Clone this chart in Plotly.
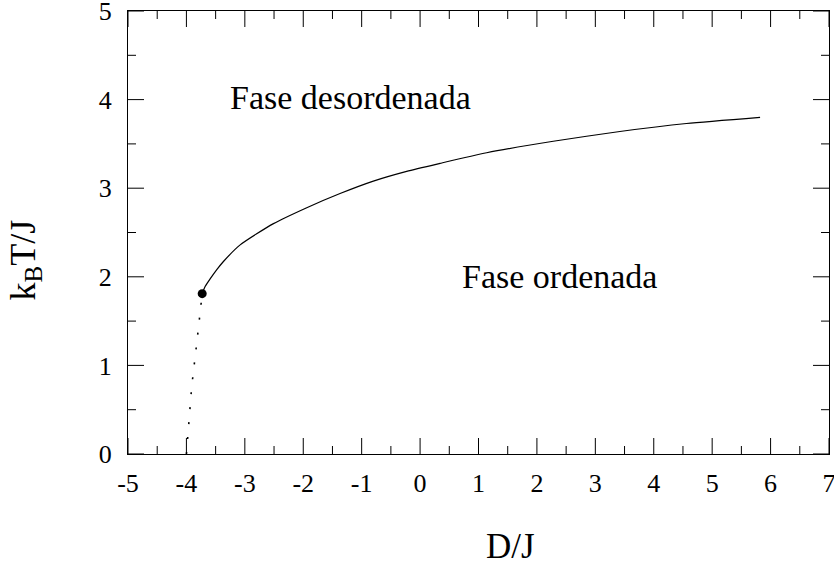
import plotly.graph_objects as go

# Phase boundary (solid): reduced anisotropy D/J vs critical temperature k_B T/J
boundary_d = [-3.73, -3.68, -3.60, -3.48, -3.37, -3.08, -2.51, -1.94, -1.37,
              -0.80, -0.23, 0.34, 1.14, 2.28, 3.42, 4.56, 5.82]
boundary_t = [1.81, 1.89, 1.97, 2.08, 2.17, 2.36, 2.60, 2.78, 2.94,
              3.08, 3.19, 3.28, 3.40, 3.53, 3.64, 3.73, 3.80]

# First-order segment (dotted) down to T = 0
first_order_d = [-4.00, -3.97, -3.91, -3.82, -3.75, -3.73]
first_order_t = [0.00, 0.25, 0.76, 1.27, 1.65, 1.81]

# Tricritical point
tcp_d = [-3.73]
tcp_t = [1.81]

x_ticks = [-5, -4, -3, -2, -1, 0, 1, 2, 3, 4, 5, 6, 7]
x_labels = ["-5", "-4", "-3", "-2", "-1", "0", "1", "2", "3", "4", "5", "6", "7"]
x_minor = [-4.5, -3.5, -2.5, -1.5, -0.5, 0.5, 1.5, 2.5, 3.5, 4.5, 5.5, 6.5]
y_ticks = [0, 1, 2, 3, 4, 5]
y_labels = ["0", "1", "2", "3", "4", "5"]
y_minor = [0.5, 1.5, 2.5, 3.5, 4.5]

x_range = [-5, 7]
y_range = [0, 5]

SERIF = "Liberation Serif, Times New Roman, serif"
MAJOR_LEN = 16
MINOR_LEN = 8

fig = go.Figure()
fig.add_trace(go.Scatter(x=first_order_d, y=first_order_t, mode="lines",
                         line=dict(color="black", width=1.6, dash="2px,13px"),
                         showlegend=False, hoverinfo="skip"))
fig.add_trace(go.Scatter(x=boundary_d, y=boundary_t, mode="lines",
                         line=dict(color="black", width=1.2, shape="spline", smoothing=0.6),
                         showlegend=False))
fig.add_trace(go.Scatter(x=tcp_d, y=tcp_t, mode="markers",
                         marker=dict(color="black", size=9),
                         showlegend=False))

axis_style = dict(
    showgrid=False, zeroline=False, showline=True, linecolor="black", linewidth=1,
    mirror=True, ticks="", automargin=False, ticklabeloverflow="allow",
    tickfont=dict(family=SERIF, size=26, color="black"),
)
fig.update_layout(
    xaxis=dict(range=x_range, tickvals=x_ticks, ticktext=x_labels,
               ticklabelstandoff=6, **axis_style),
    yaxis=dict(range=y_range, tickvals=y_ticks, ticktext=y_labels,
               ticklabelstandoff=10, **axis_style),
)

# Inward tick marks on all four sides, sized in pixels
tick_line = dict(color="black", width=1)
for values, length in ((x_ticks, MAJOR_LEN), (x_minor, MINOR_LEN)):
    for v in values:
        for anchor, sign in ((0, 1), (1, -1)):
            fig.add_shape(type="line", xref="x", yref="paper", x0=v, x1=v,
                          ysizemode="pixel", yanchor=anchor, y0=0, y1=sign * length,
                          line=tick_line, layer="above")
for values, length in ((y_ticks, MAJOR_LEN), (y_minor, MINOR_LEN)):
    for v in values:
        for anchor, sign in ((0, 1), (1, -1)):
            fig.add_shape(type="line", xref="paper", yref="y", y0=v, y1=v,
                          xsizemode="pixel", xanchor=anchor, x0=0, x1=sign * length,
                          line=tick_line, layer="above")

fig.add_annotation(x=-1.19, y=4.02, text="Fase desordenada", showarrow=False,
                   font=dict(family=SERIF, size=34, color="black"))
fig.add_annotation(x=2.39, y=2.0, text="Fase ordenada", showarrow=False,
                   font=dict(family=SERIF, size=34, color="black"))

# Axis titles
fig.add_annotation(xref="paper", yref="paper", x=0.546, y=0, yshift=-114,
                   text="D/J", showarrow=False,
                   font=dict(family=SERIF, size=35, color="black"))
fig.add_annotation(xref="paper", yref="paper", x=0, y=(454 - 260) / 443, xshift=-128,
                   text="k<sub>B</sub>T/J", textangle=-90, showarrow=False,
                   font=dict(family=SERIF, size=36, color="black"))

fig.update_layout(
    width=834, height=567,
    margin=dict(l=128, r=5, t=11, b=113),
    paper_bgcolor="white", plot_bgcolor="white",
)

fig.write_html("out.html")
